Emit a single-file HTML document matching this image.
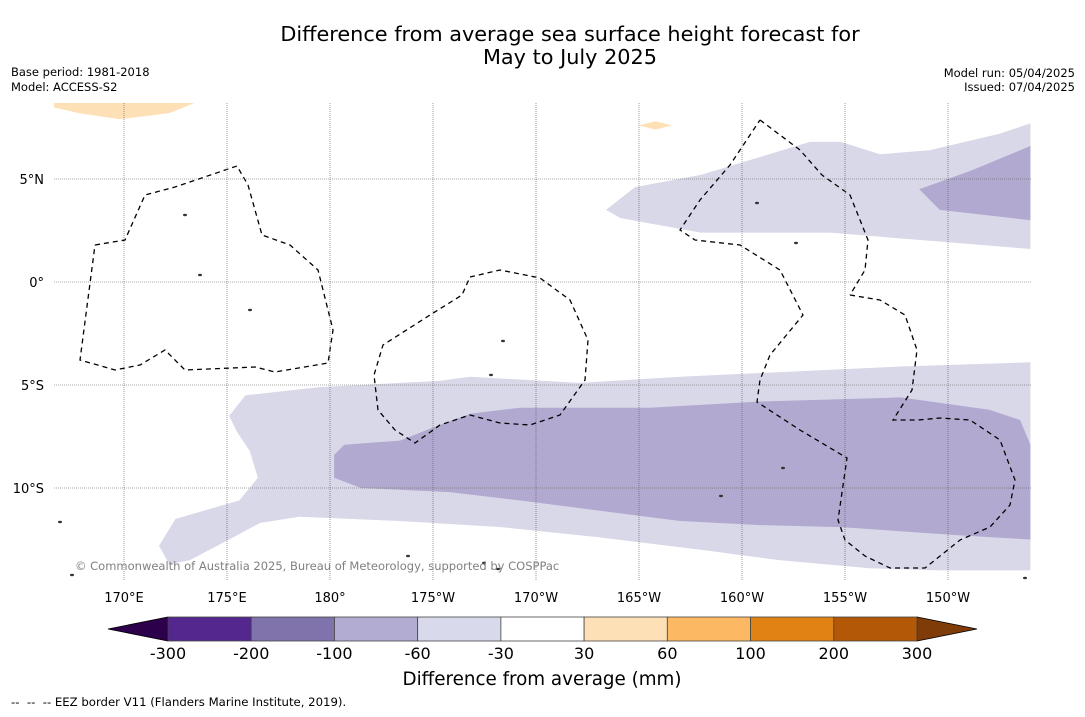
<!DOCTYPE html>
<html><head><meta charset="utf-8"><style>
html,body{margin:0;padding:0;background:#fff;}
body{width:1085px;height:713px;overflow:hidden;font-family:"DejaVu Sans","Liberation Sans",sans-serif;}
svg text{font-family:"DejaVu Sans","Liberation Sans",sans-serif;}
</style></head><body>
<svg id="chart" width="1085" height="713" viewBox="0 0 1085 713" xmlns="http://www.w3.org/2000/svg">
<text x="570" y="41" font-size="20.8" text-anchor="middle" fill="#000">Difference from average sea surface height forecast for</text>
<text x="570" y="64" font-size="20.8" text-anchor="middle" fill="#000">May to July 2025</text>
<text x="11" y="76" font-size="11.5">Base period: 1981-2018</text>
<text x="11" y="91" font-size="11.5">Model: ACCESS-S2</text>
<text x="1075" y="77" font-size="11.5" text-anchor="end">Model run: 05/04/2025</text>
<text x="1075" y="91" font-size="11.5" text-anchor="end">Issued: 07/04/2025</text>
<defs><clipPath id="mapclip"><rect x="54" y="103" width="977" height="477"/></clipPath></defs>
<g id="map" clip-path="url(#mapclip)"></g>
<g id="grid"></g>
<g id="ticks"></g>
<text x="75" y="570" font-size="11.5" fill="#808080">© Commonwealth of Australia 2025, Bureau of Meteorology, supported by COSPPac</text>
<g id="cbar"></g>
<text x="542" y="685" font-size="18.3" text-anchor="middle">Difference from average (mm)</text>
<text x="11" y="706" font-size="11.7" xml:space="preserve">--  --  -- EEZ border V11 (Flanders Marine Institute, 2019).</text>
</svg>
<script>
// Contour polygons [lon east, lat]
const southLight=[[175.1,-6.5],[175.9,-5.5],[179.5,-5.1],[185.3,-4.8],[186.8,-4.6],[192.1,-4.9],[197.0,-4.6],[207.7,-4.1],[214.0,-3.9],[214.0,-14.0],[209.6,-14.0],[206.2,-13.9],[201.8,-13.5],[198.0,-13.0],[193.1,-12.4],[188.3,-11.9],[183.4,-11.6],[178.5,-11.4],[176.6,-11.7],[175.1,-12.5],[173.2,-13.5],[172.2,-13.7],[171.7,-12.8],[172.5,-11.5],[175.6,-10.6],[176.5,-9.5],[176.1,-8.2],[175.5,-7.3]];
const southMedium=[[180.2,-8.4],[180.7,-7.9],[183.4,-7.7],[184.9,-7.1],[186.8,-6.4],[189.2,-6.1],[192.1,-6.1],[195.5,-6.1],[200.9,-5.8],[207.7,-5.6],[212.0,-6.2],[213.5,-6.7],[214.0,-7.9],[214.0,-12.5],[210.6,-12.3],[204.8,-11.9],[200.9,-11.8],[197.0,-11.6],[193.1,-11.1],[189.2,-10.6],[185.8,-10.2],[181.5,-10.0],[180.2,-9.5]];
const northLight=[[193.4,3.5],[194.8,4.6],[198.0,5.2],[203.3,6.8],[204.8,6.8],[206.7,6.2],[209.1,6.4],[212.5,7.2],[214.0,7.7],[214.0,1.6],[209.1,2.0],[204.3,2.4],[198.0,2.4],[194.1,3.1]];
const northMedium=[[208.6,4.5],[211.1,5.4],[214.0,6.6],[214.0,3.0],[209.6,3.5]];
const tanNorth=[[166.5,8.8],[173.7,8.8],[172.2,8.2],[169.8,7.9],[167.8,8.2],[166.5,8.5]];
const tanSmall=[[195.0,7.6],[195.8,7.8],[196.6,7.6],[195.8,7.4]];
const lonTicks=[170,175,180,185,190,195,200,205,210];
const lonLabels=["170°E","175°E","180°","175°W","170°W","165°W","160°W","155°W","150°W"];
const latTicks=[5,0,-5,-10];
const latLabels=["5°N","0°","5°S","10°S"];
const cbarBounds=["-300","-200","-100","-60","-30","30","60","100","200","300"];
const cbarColors=["#54278f","#8073ac","#b2abd2","#d8daeb","#ffffff","#fee0b6","#fdb863","#e08214","#b35806"];
const NS="http://www.w3.org/2000/svg";
const X=lon=>124+(lon-170)*20.6;
const Y=lat=>282-lat*20.6;
function mk(tag,attrs,parent){const e=document.createElementNS(NS,tag);for(const k in attrs)e.setAttribute(k,attrs[k]);parent.appendChild(e);return e;}
const map=document.getElementById('map');
function poly(arr,fill,name){const p=mk('polygon',{points:arr.map(d=>X(d[0]).toFixed(1)+','+Y(d[1]).toFixed(1)).join(' '),fill:fill},map);

}
poly(southLight,'#d8d8e9','contour-south-light');
poly(northLight,'#d8d8e9','contour-north-light');
poly(southMedium,'#b1a9d0','contour-south-medium');
poly(northMedium,'#b1a9d0','contour-north-medium');
poly(tanNorth,'#fde0b6','contour-north-positive');
poly(tanSmall,'#fde0b6','contour-small-positive');
// EEZ borders (decorative)
const eez=[
"95,245 125,240 145,195 175,187 237,166 248,185 262,235 290,245 318,270 328,310 333,330 328,363 275,372 255,367 185,370 165,350 140,365 115,370 80,360 95,245",
"470,277 500,270 540,278 570,300 588,340 585,380 560,415 530,425 500,423 470,415 440,425 415,443 395,430 378,410 374,375 383,345 430,315 462,295 470,277",
"760,120 800,150 822,175 850,195 868,240 865,270 850,295",
"850,295 880,300 905,315 917,350 912,390 893,420 918,420 940,418 970,420 1000,440 1015,480 1010,505 990,527 960,540 925,568 890,568 865,556 845,540 838,520 847,458 800,430 757,402 760,380 770,355 803,315 780,270 740,245 695,240 680,230 700,200 730,165 760,120"];
eez.forEach(pts=>{const l=mk('polyline',{points:pts,fill:'none',stroke:'#000','stroke-width':1.3,'stroke-dasharray':'5,4'},map);

});
[[503,341],[491,375],[783,468],[796,243],[757,203],[721,496],[484,563],[498,569],[60,522],[72,575],[408,556],[185,215],[200,275],[250,310],[1025,578]].forEach(d=>{const c=mk('ellipse',{cx:d[0],cy:d[1],rx:2,ry:1.2,fill:'#333'},map);

});
const grid=document.getElementById('grid'),ticks=document.getElementById('ticks');
lonTicks.forEach((v,i)=>{const l=mk('line',{x1:X(v),x2:X(v),y1:103,y2:580,stroke:'#555','stroke-width':0.6,'stroke-dasharray':'1,1'},grid);


const t=mk('text',{x:X(v),y:602,'font-size':13,'text-anchor':'middle'},ticks);t.textContent=lonLabels[i];

});
latTicks.forEach((v,i)=>{const l=mk('line',{x1:54,x2:1031,y1:Y(v),y2:Y(v),stroke:'#555','stroke-width':0.6,'stroke-dasharray':'1,1'},grid);


const t=mk('text',{x:44,y:Y(v)+5,'font-size':13,'text-anchor':'end'},ticks);t.textContent=latLabels[i];

});
const cb=document.getElementById('cbar');
const cx0=168,cx1=917,cy0=617,cy1=641,n=cbarColors.length,w=(cx1-cx0)/n;
const tl=mk('polygon',{points:`108,629 ${cx0},${cy0} ${cx0},${cy1}`,fill:'#2d004b',stroke:'#000','stroke-width':0.8},cb);


const tr=mk('polygon',{points:`977,629 ${cx1},${cy0} ${cx1},${cy1}`,fill:'#7f3b08',stroke:'#000','stroke-width':0.8},cb);


cbarColors.forEach((c,i)=>{const r=mk('rect',{x:cx0+i*w,y:cy0,width:w,height:cy1-cy0,fill:c,stroke:'#444','stroke-width':0.8},cb);

});
cbarBounds.forEach((b,i)=>{const t=mk('text',{x:cx0+i*w,y:659,'font-size':16,'text-anchor':'middle'},cb);t.textContent=b;

});
</script>
</body></html>
